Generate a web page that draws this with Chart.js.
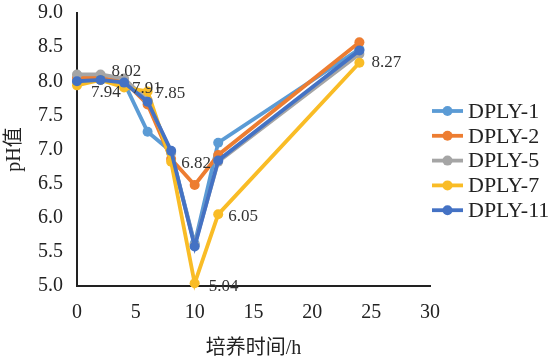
<!DOCTYPE html>
<html>
<head>
<meta charset="utf-8">
<script src="https://cdn.jsdelivr.net/npm/chart.js@4.4.0/dist/chart.umd.min.js"></script>
<style>
html,body{margin:0;padding:0;background:#fff;}
#wrap{width:556px;height:356px;position:relative;}
</style>
</head>
<body>
<div id="wrap"><canvas id="c" width="556" height="356"></canvas></div>
<script>
// ---- data ----
const times = [0, 2, 4, 6, 8, 10, 12, 24];
const seriesNames = ['DPLY-1', 'DPLY-2', 'DPLY-5', 'DPLY-7', 'DPLY-11'];
const dply1  = [8.00, 8.02, 7.98, 7.26, 6.97, 5.62, 7.10, 8.47];
const dply2  = [8.05, 8.05, 8.00, 7.66, 6.86, 6.48, 6.92, 8.57];
const dply5  = [8.10, 8.10, 8.04, 7.72, 6.95, 5.60, 6.82, 8.40];
const dply7  = [7.94, 8.02, 7.91, 7.85, 6.82, 5.04, 6.05, 8.27];
const dply11 = [8.00, 8.02, 7.98, 7.70, 6.98, 5.58, 6.84, 8.45];
const xTitle = '培养时间/h';
const yTitle = 'pH值';
const labeledSeries = 3; // DPLY-7 carries data labels

// ---- styles ----
const colors = ['#5B9BD5', '#ED7D31', '#A5A5A5', '#F9BC26', '#4472C4'];
const labelDx = [14, 11, 8, 8, 10, 14, 10, 12];
const labelDy = [7, -8, 1, 2, 2, 3, 2, 0];
const serif = "'Liberation Serif', 'Times New Roman', serif";
const cjk = "'Liberation Serif', 'Noto Sans CJK SC', serif";

const allSeries = [dply1, dply2, dply5, dply7, dply11];
const datasets = allSeries.map((vals, i) => ({
  label: seriesNames[i],
  data: vals.map((v, j) => ({x: times[j], y: v})),
  borderColor: colors[i],
  backgroundColor: colors[i],
  borderWidth: 3.8,
  pointRadius: 5,
  pointHoverRadius: 5,
  pointBorderWidth: 0,
  tension: 0,
  clip: false,
  order: allSeries.length - i
}));

const dataLabels = {
  id: 'dataLabels',
  afterDatasetsDraw(chart) {
    const ctx = chart.ctx;
    const meta = chart.getDatasetMeta(labeledSeries);
    const vals = allSeries[labeledSeries];
    ctx.save();
    ctx.font = '17px ' + serif;
    ctx.fillStyle = '#333';
    ctx.textAlign = 'left';
    ctx.textBaseline = 'middle';
    meta.data.forEach((pt, j) => {
      ctx.fillText(vals[j].toFixed(2), pt.x + labelDx[j], pt.y + labelDy[j]);
    });
    ctx.restore();
  }
};

const sideLegend = {
  id: 'sideLegend',
  afterDraw(chart) {
    const ctx = chart.ctx;
    const x0 = chart.chartArea.right + 2;
    const y0 = 111;
    const step = 24.8;
    ctx.save();
    chart.data.datasets.forEach((ds, i) => {
      const y = y0 + i * step;
      ctx.strokeStyle = ds.borderColor;
      ctx.lineWidth = 3.8;
      ctx.beginPath();
      ctx.moveTo(x0, y);
      ctx.lineTo(x0 + 31, y);
      ctx.stroke();
      ctx.fillStyle = ds.borderColor;
      ctx.beginPath();
      ctx.arc(x0 + 15.5, y, 5, 0, Math.PI * 2);
      ctx.fill();
      ctx.fillStyle = '#222';
      ctx.font = '22px ' + serif;
      ctx.textAlign = 'left';
      ctx.textBaseline = 'middle';
      ctx.fillText(ds.label, x0 + 36, y + 1);
    });
    ctx.restore();
  }
};

new Chart(document.getElementById('c'), {
  type: 'line',
  data: { datasets },
  options: {
    responsive: false,
    animation: false,
    events: [],
    layout: { padding: { top: 13, right: 126, left: 0, bottom: 0 } },
    plugins: {
      legend: { display: false },
      tooltip: { enabled: false }
    },
    scales: {
      x: {
        type: 'linear',
        min: 0, max: 30,
        ticks: { stepSize: 5, color: '#222', font: { family: serif, size: 20 }, padding: 15, maxRotation: 0 },
        grid: { display: false, drawTicks: false },
        border: { display: true, color: '#222', width: 2 },
        title: { display: true, text: xTitle, color: '#222', font: { family: cjk, size: 20 }, padding: { top: 0, bottom: -5 } },
        afterFit(scale) { scale.height = 70; scale.paddingLeft = 0; scale.paddingRight = 0; }
      },
      y: {
        min: 5, max: 9,
        ticks: { stepSize: 0.5, color: '#222', font: { family: serif, size: 20 }, padding: 14,
                 callback: v => Number(v).toFixed(1) },
        grid: { display: false, drawTicks: false },
        border: { display: true, color: '#222', width: 2 },
        title: { display: true, text: yTitle, color: '#222', font: { family: cjk, size: 20 }, padding: { top: 3, bottom: 0 } },
        afterFit(scale) { scale.width = 77; scale.paddingTop = 0; scale.paddingBottom = 0; }
      }
    }
  },
  plugins: [dataLabels, sideLegend]
});
</script>
</body>
</html>
